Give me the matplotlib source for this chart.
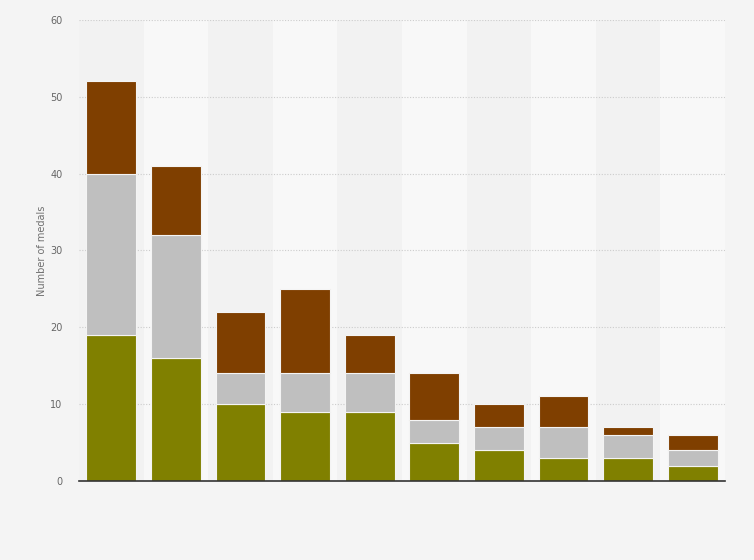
import matplotlib.pyplot as plt
import numpy as np

gold = [19, 16, 10, 9, 9, 5, 4, 3, 3, 2]
silver = [21, 16, 4, 5, 5, 3, 3, 4, 3, 2]
bronze = [12, 9, 8, 11, 5, 6, 3, 4, 1, 2]
yticks = [0, 10, 20, 30, 40, 50, 60]

x = np.arange(len(gold))
gold = np.array(gold)
silver = np.array(silver)
bronze = np.array(bronze)

fig = plt.figure(figsize=(7.54, 5.60), dpi=100, facecolor='#f4f4f4')
ax = fig.add_axes([0.1048, 0.1411, 0.8567, 0.8232])
ax.set_facecolor('#f4f4f4')

# alternating column bands
for i in x:
    ax.axvspan(i - 0.5, i + 0.5, color='#f2f2f2' if i % 2 == 0 else '#f8f8f8', zorder=0, lw=0)

for y in yticks[1:]:
    ax.axhline(y, color='#cccccc', lw=0.8, ls=(0, (1, 1.5)), zorder=1)

w = 0.77
ax.bar(x, gold, w, color='#808000', edgecolor='#f4f4f4', lw=0.8, zorder=2)
ax.bar(x, silver, w, bottom=gold, color='#bfbfbf', edgecolor='#f4f4f4', lw=0.8, zorder=2)
ax.bar(x, bronze, w, bottom=gold + silver, color='#7f3f00', edgecolor='#f4f4f4', lw=0.8, zorder=2)

ax.set_xlim(-0.5, len(gold) - 0.5)
ax.set_ylim(0, 60)
ax.set_yticks(yticks)
ax.set_xticks([])
ax.tick_params(axis='y', length=0, labelsize=7, labelcolor='#666666', pad=12)
for s in ['top', 'right', 'left']:
    ax.spines[s].set_visible(False)
ax.spines['bottom'].set_color('#333333')
ax.spines['bottom'].set_linewidth(1.2)
ax.set_ylabel('Number of medals', fontsize=7, color='#707070', labelpad=2)

plt.savefig('out.png', dpi=100, facecolor=fig.get_facecolor())
